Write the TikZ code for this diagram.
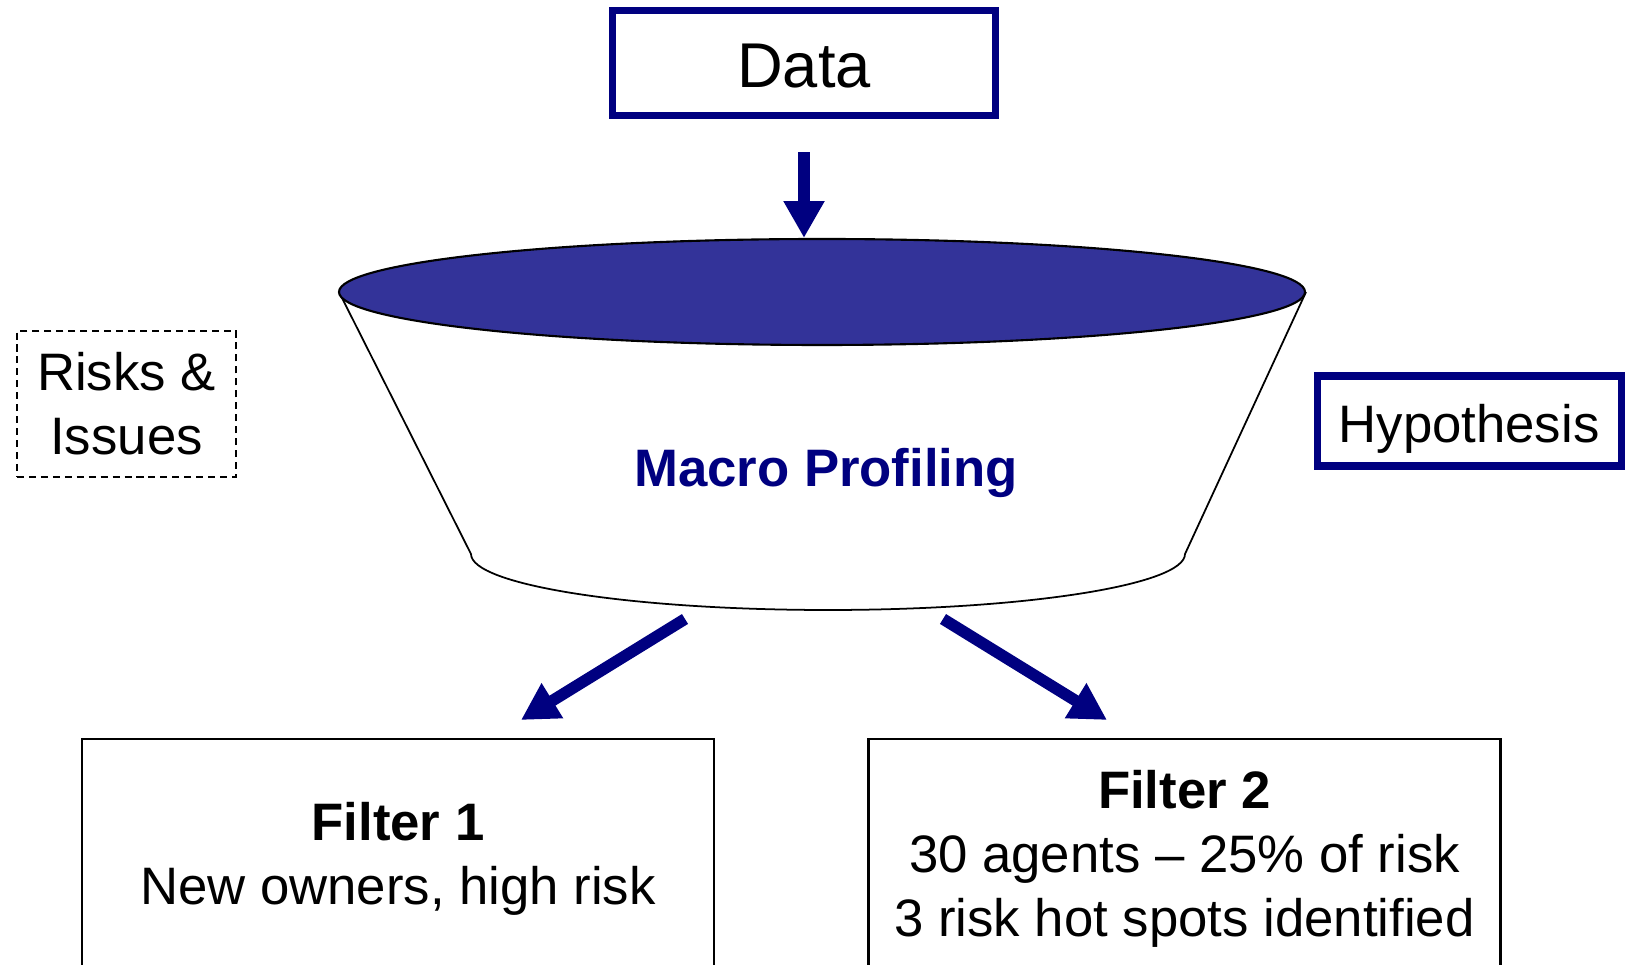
\documentclass[tikz,border=0pt]{standalone}
\usepackage{xcolor}
\usepackage{fontspec}
\setmainfont{Liberation Sans}
\usetikzlibrary{arrows.meta,shapes.geometric}

\definecolor{navyblue}{RGB}{0,0,128}
\definecolor{rimblue}{RGB}{51,51,153}

\begin{document}
\begin{tikzpicture}[
    bluebox/.style={draw=navyblue, line width=2pt, inner sep=0pt},
    filterbox/.style={draw, line width=0.6pt, minimum width=6.32cm, minimum height=2.4cm, align=center, inner sep=0pt},
    bigarrow/.style={-{Triangle[width=11pt,length=10.5pt]}, line width=3.3pt, navyblue},
    txt/.style={font=\fontsize{15}{18.3}\selectfont}
  ]
    % Page frame
    \useasboundingbox (0,0) rectangle (16.25,9.64);
    \clip (0,0) rectangle (16.25,9.64);

    % Funnel body
    \fill[white] (3.39,6.72) -- (4.71,4.10) arc[start angle=180, end angle=360, x radius=3.57, y radius=0.56] -- (13.06,6.72) -- cycle;
    \draw[line width=0.5pt] (3.39,6.72) -- (4.71,4.10) arc[start angle=180, end angle=360, x radius=3.57, y radius=0.56] -- (13.06,6.72);
    \node[ellipse, draw, line width=0.6pt, fill=rimblue, minimum width=9.66cm, minimum height=1.06cm] (rim) at (8.22,6.72) {};
    \node[txt, text=navyblue, anchor=base] (macro) at (8.26,4.77) {\bfseries Macro Profiling};

    % Boxes around the funnel
    \node[bluebox, minimum width=3.83cm, minimum height=1.05cm, font=\fontsize{18}{21}\selectfont, text height=14pt, text depth=0pt] (data) at (8.04,9.01) {Data};
    \node[bluebox, txt, minimum width=3.04cm, minimum height=0.90cm, text height=12pt, text depth=0pt] (hyp) at (14.69,5.43) {Hypothesis};
    \node[draw, dashed, dash pattern=on 2pt off 1.4pt, line width=0.6pt, txt, align=center, inner sep=0pt, minimum width=2.19cm, minimum height=1.46cm] (risks) at (1.265,5.60) {Risks \&\\Issues};

    % Filter boxes (cut by the page edge)
    \node[filterbox, txt] (filterA) at (3.98,1.05) {\textbf{Filter 1}\\New owners, high risk};
    \node[filterbox, txt] (filterB) at (11.845,1.05) {\textbf{Filter 2}\\30 agents -- 25\% of risk\\3 risk hot spots identified};

    % Arrows
    \coordinate (outA) at (6.85,3.45);
    \coordinate (outB) at (9.43,3.45);
    \coordinate (inA) at (5.21,2.44);
    \coordinate (inB) at (11.07,2.44);
    \draw[bigarrow, shorten <=0.33cm] (data.south) -- (data.south |- rim.north);
    \draw[bigarrow] (outA) -- (inA);
    \draw[bigarrow] (outB) -- (inB);
  \end{tikzpicture}
\end{document}
